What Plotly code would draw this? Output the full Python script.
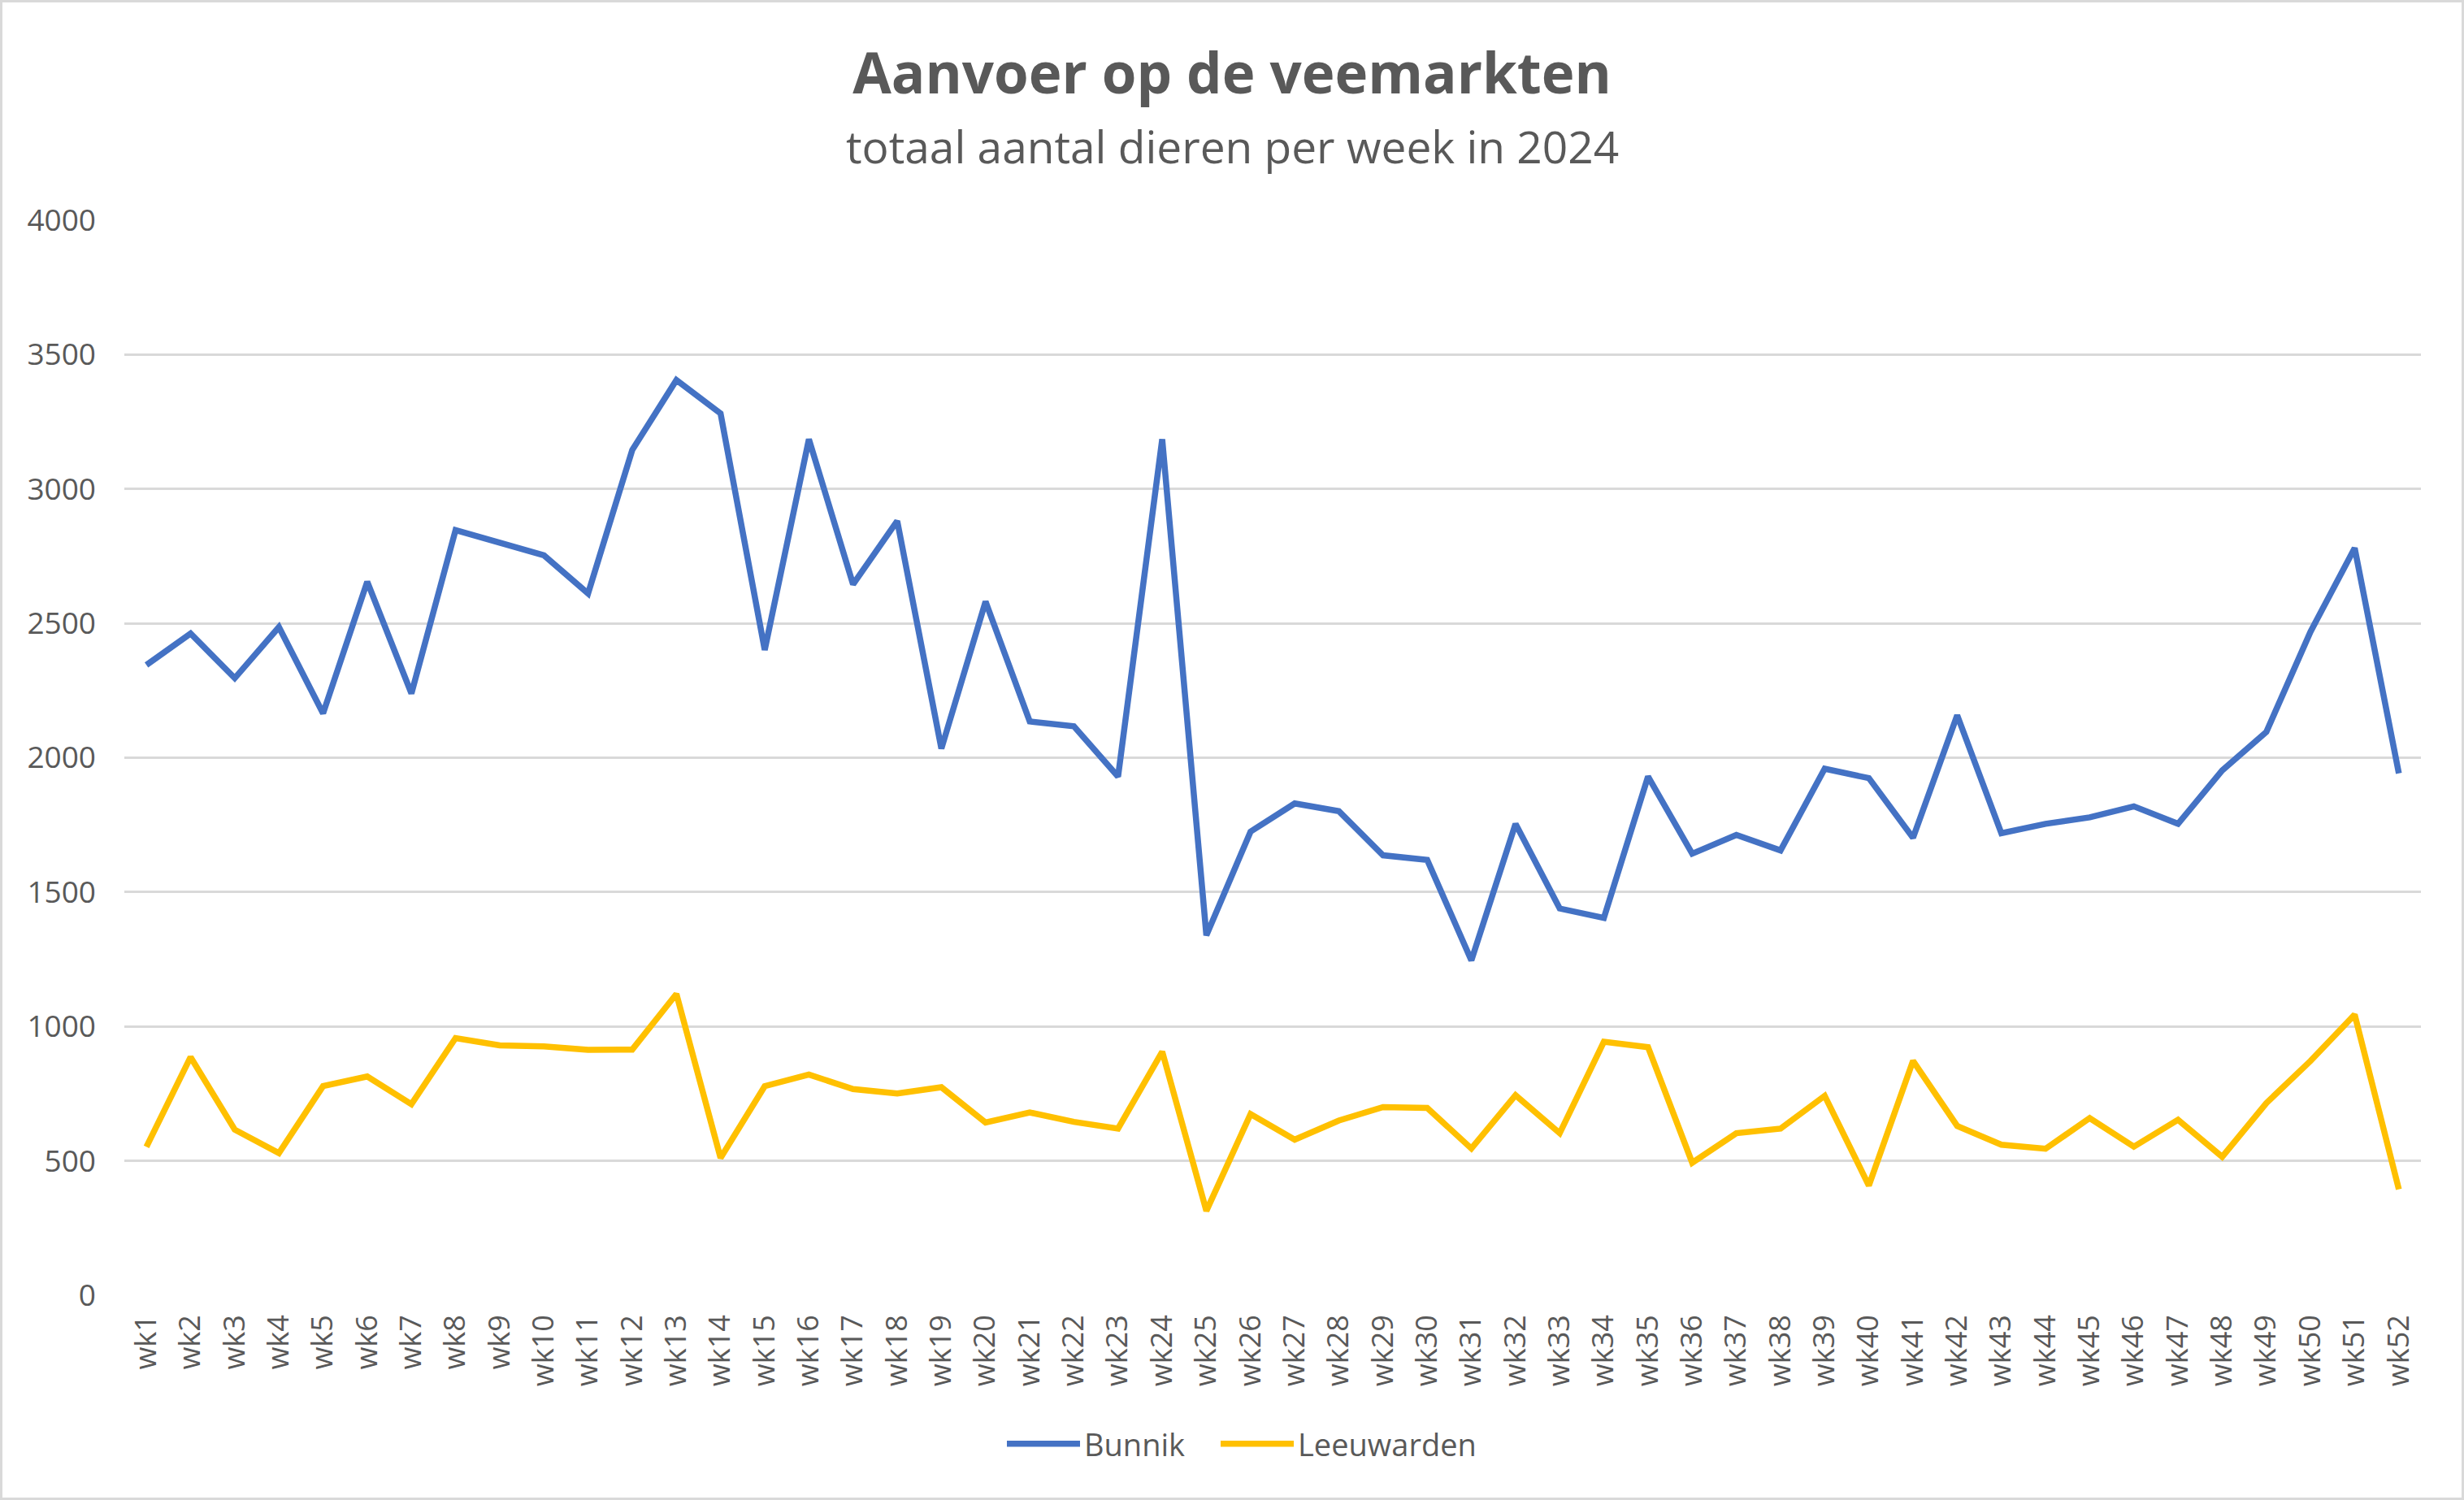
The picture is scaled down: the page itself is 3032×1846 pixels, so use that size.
import plotly.graph_objects as go

weeks = [f"wk{i}" for i in range(1, 53)]

bunnik = [2345, 2462, 2296, 2486, 2165, 2655, 2239, 2847, 2800, 2753,
          2611, 3145, 3405, 3281, 2401, 3185, 2645, 2881, 2034, 2581,
          2135, 2117, 1930, 3185, 1339, 1725, 1830, 1801, 1637, 1620,
          1246, 1754, 1439, 1404, 1930, 1643, 1713, 1655, 1959, 1924,
          1702, 2158, 1719, 1754, 1778, 1819, 1754, 1953, 2096, 2469,
          2780, 1942]

leeuwarden = [552, 886, 616, 529, 778, 814, 711, 957, 930, 926,
              913, 914, 1121, 511, 778, 821, 767, 751, 774, 643,
              680, 645, 620, 906, 314, 674, 579, 650, 700, 697,
              546, 744, 603, 943, 923, 493, 603, 620, 742, 408,
              872, 630, 560, 545, 659, 553, 653, 515, 715, 872,
              1044, 394]

y_ticks = [0, 500, 1000, 1500, 2000, 2500, 3000, 3500, 4000]

W, H = 3032, 1846
ML, MR, MT, MB = 153, 53, 271, 252
PW, PH = W - ML - MR, H - MT - MB

text_color = "#595959"
grid_color = "#D9D9D9"
font_family = "Open Sans, Noto Sans, DejaVu Sans, sans-serif"

fig = go.Figure()
fig.add_trace(go.Scatter(x=weeks, y=bunnik, mode="lines", name="Bunnik",
                         line=dict(color="#4472C4", width=7.5), legend="legend"))
fig.add_trace(go.Scatter(x=weeks, y=leeuwarden, mode="lines", name="Leeuwarden",
                         line=dict(color="#FFC000", width=7.5), legend="legend2"))

def px_x(px):
    return (px - ML) / PW

def px_y(py):
    return (H - MB - py) / PH

legend_common = dict(orientation="h", yanchor="middle", y=px_y(1777), xanchor="left",
                     font=dict(size=38, color=text_color), itemwidth=90,
                     bgcolor="rgba(0,0,0,0)", borderwidth=0)

fig.update_layout(
    width=W, height=H, autosize=False,
    margin=dict(l=ML, r=MR, t=MT, b=MB, pad=0),
    paper_bgcolor="white", plot_bgcolor="white",
    font=dict(family=font_family, color=text_color, size=36),
    title=dict(text="<b>Aanvoer op de veemarkten</b>", x=0.5, xref="container",
               xanchor="center", y=1 - 91 / H, yref="container", yanchor="middle",
               font=dict(size=69, color=text_color, family=font_family)),
    showlegend=True,
    legend=dict(legend_common, x=px_x(1234)),
    legend2=dict(legend_common, x=px_x(1497)),
    xaxis=dict(type="category", categoryorder="array", categoryarray=weeks,
               range=[-0.5, len(weeks) - 0.5], tickangle=-90,
               showgrid=False, showline=False, zeroline=False, ticks="",
               tickfont=dict(size=36, color=text_color), ticklabelstandoff=16),
    yaxis=dict(range=[0, 4000], tickvals=y_ticks, ticktext=[str(v) for v in y_ticks],
               showgrid=True, gridcolor=grid_color, gridwidth=2.5,
               zeroline=False, showline=False, ticks="",
               tickfont=dict(size=37, color=text_color), ticklabelstandoff=34),
    annotations=[dict(text="totaal aantal dieren per week in 2024",
                      xref="paper", yref="paper", x=px_x(W / 2), y=px_y(180),
                      xanchor="center", yanchor="middle", showarrow=False,
                      font=dict(size=55, color=text_color, family=font_family))],
    shapes=[dict(type="rect", xref="paper", yref="paper",
                 x0=px_x(1.5), x1=px_x(W - 1.5), y0=px_y(H - 1.5), y1=px_y(1.5),
                 line=dict(color=grid_color, width=3), fillcolor="rgba(0,0,0,0)",
                 layer="below")],
)

fig.write_html("out.html", config={"displayModeBar": False},
               post_script="document.body.style.margin='0';document.body.style.overflow='hidden';")
